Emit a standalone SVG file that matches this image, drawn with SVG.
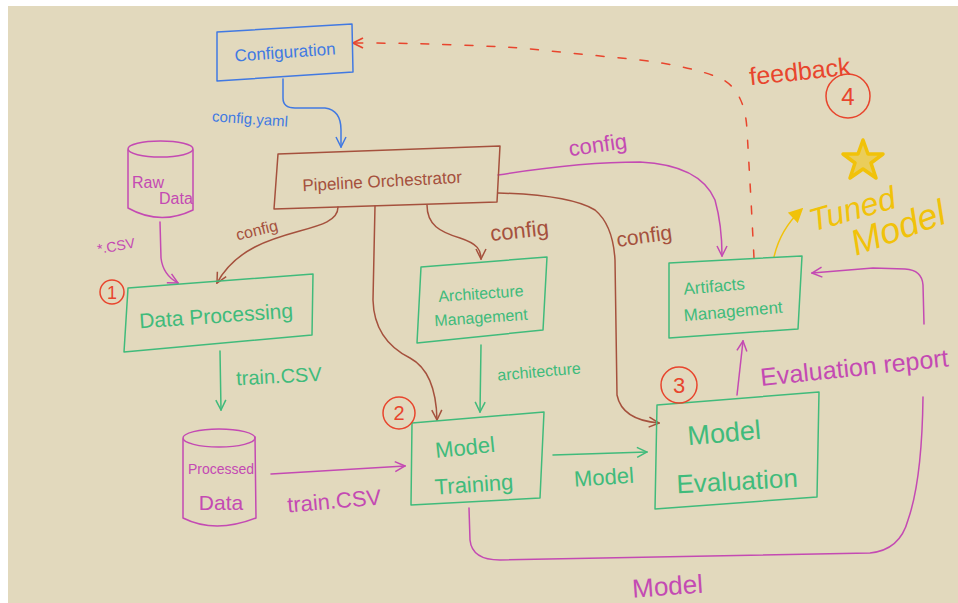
<svg xmlns="http://www.w3.org/2000/svg" width="958" height="603" viewBox="0 0 958 603">
<style>
.ln{fill:none;stroke-width:1.5;stroke-linecap:round;stroke-linejoin:round}
.t{font-family:"Liberation Sans","DejaVu Sans",sans-serif}
.blue{stroke:#4179e2}.brown{stroke:#a5513d}.green{stroke:#40bb7b}.mag{stroke:#c44ab3}.red{stroke:#e8452d}.yel{stroke:#f1c20a}
.fblue{fill:#4179e2}.fbrown{fill:#a5513d}.fgreen{fill:#40bb7b}.fmag{fill:#c44ab3}.fred{fill:#e8452d}.fyel{fill:#f1c20a}
</style>
<defs>
<marker id="ab" viewBox="0 0 12 12" refX="11" refY="6" markerWidth="12" markerHeight="12" markerUnits="userSpaceOnUse" orient="auto"><path d="M1,1 L11,6 L1,11" fill="none" stroke="#4179e2" stroke-width="1.5"/></marker>
<marker id="abr" viewBox="0 0 12 12" refX="11" refY="6" markerWidth="12" markerHeight="12" markerUnits="userSpaceOnUse" orient="auto"><path d="M1,1 L11,6 L1,11" fill="none" stroke="#a5513d" stroke-width="1.5"/></marker>
<marker id="ag" viewBox="0 0 12 12" refX="11" refY="6" markerWidth="12" markerHeight="12" markerUnits="userSpaceOnUse" orient="auto"><path d="M1,1 L11,6 L1,11" fill="none" stroke="#40bb7b" stroke-width="1.5"/></marker>
<marker id="am" viewBox="0 0 12 12" refX="11" refY="6" markerWidth="12" markerHeight="12" markerUnits="userSpaceOnUse" orient="auto"><path d="M1,1 L11,6 L1,11" fill="none" stroke="#c44ab3" stroke-width="1.5"/></marker>
<marker id="ar" viewBox="0 0 12 12" refX="11" refY="6" markerWidth="12" markerHeight="12" markerUnits="userSpaceOnUse" orient="auto"><path d="M1,1 L11,6 L1,11" fill="none" stroke="#e8452d" stroke-width="1.8"/></marker>
<marker id="ay" viewBox="0 0 12 12" refX="10" refY="6" markerWidth="14" markerHeight="14" markerUnits="userSpaceOnUse" orient="auto"><path d="M1,1 L11,6 L1,11 Z" fill="#f1c20a" stroke="#f1c20a" stroke-width="1.5"/></marker>
</defs>
<rect x="0" y="0" width="958" height="603" fill="#ffffff"/>
<rect x="8" y="6" width="950" height="597" fill="#e2d9bd"/>

<g id="connectors">
  <path class="ln blue" d="M283,79 L283,98 Q283,108 295,108 L325,108 Q341,110 341,130 L341,147" marker-end="url(#ab)"/>
  <text class="t fblue" x="212" y="124" font-size="15" transform="rotate(4 250 120)">config.yaml</text>

  <path class="ln mag" d="M160,222 L161,258 Q163,275 178,283" marker-end="url(#am)"/>
  <text class="t fmag" x="97" y="251" font-size="14" transform="rotate(-10 115 246)">*.CSV</text>

  <path class="ln brown" d="M338,207 C338,238 250,222 217,283" marker-end="url(#abr)"/>
  <text class="t fbrown" x="235" y="236" font-size="16" transform="rotate(-14 255 228)">config</text>

  <path class="ln brown" d="M427,205 C427,225 440,232 460,238 C478,244 481,250 481,259" marker-end="url(#abr)"/>
  <text class="t fbrown" x="490" y="238" font-size="22" transform="rotate(-6 520 230)">config</text>

  <path class="ln brown" d="M375,206 L373,300 Q374,340 410,358 Q436,372 437,420" marker-end="url(#abr)"/>

  <path class="ln brown" d="M498,193 Q570,195 595,210 Q613,225 615,260 L617,395 Q622,420 659,423" marker-end="url(#abr)"/>
  <text class="t fbrown" x="616" y="243" font-size="21" transform="rotate(-8 645 235)">config</text>

  <path class="ln mag" d="M498,175 Q580,162 640,162 Q700,165 715,200 Q722,225 722,256" marker-end="url(#am)"/>
  <text class="t fmag" x="568" y="152" font-size="22" transform="rotate(-8 600 142)">config</text>

  <path class="ln green" d="M220,351 L221,410" marker-end="url(#ag)"/>
  <text class="t fgreen" x="236" y="383" font-size="20" transform="rotate(-3 280 375)">train.CSV</text>

  <path class="ln mag" d="M271,474 L405,466" marker-end="url(#am)"/>
  <text class="t fmag" x="287" y="508" font-size="22" transform="rotate(-5 340 500)">train.CSV</text>

  <path class="ln green" d="M481,345 L480,412" marker-end="url(#ag)"/>
  <text class="t fgreen" x="497" y="377" font-size="16" transform="rotate(-5 540 370)">architecture</text>

  <path class="ln green" d="M553,455 L647,452" marker-end="url(#ag)"/>
  <text class="t fgreen" x="574" y="485" font-size="22" transform="rotate(-4 600 478)">Model</text>

  <path class="ln mag" d="M737,395 L743,341" marker-end="url(#am)"/>
  <text class="t fmag" x="759" y="376" font-size="25" transform="rotate(-6 855 360)">Evaluation report</text>

  <path class="ln mag" d="M469,508 L470,540 Q472,560 500,560 L870,553 Q900,550 908,520 Q922,480 923,397"/>
  <path class="ln mag" d="M924,324 L923,285 Q922,270 905,269 L873,268 L812,273" marker-end="url(#am)"/>
  <text class="t fmag" x="632" y="595" font-size="26" transform="rotate(-4 670 585)">Model</text>

  <path class="ln red" stroke-dasharray="8,14" d="M754,258 L751,200 L747,130 Q745,90 720,78 Q690,66 640,60 L520,48 Q440,43 353,43" marker-end="url(#ar)"/>
  <text class="t fred" x="749" y="80" font-size="25" transform="rotate(-6 800 70)">feedback</text>

  <path class="ln yel" stroke-width="3" d="M774,257 Q780,230 801,210" marker-end="url(#ay)"/>
</g>

<g id="configuration">
  <polygon class="ln blue" points="217,32 352,24 353,72 217,81"/>
  <text class="t fblue" x="285" y="58" font-size="17" text-anchor="middle" transform="rotate(-4 285 52)">Configuration</text>
</g>

<g id="pipeline-orchestrator">
  <polygon class="ln brown" points="278,154 500,146 497,202 274,209"/>
  <text class="t fbrown" x="382" y="187" font-size="17" text-anchor="middle" transform="rotate(-3 382 180)">Pipeline Orchestrator</text>
</g>

<g id="raw-data">
  <path class="ln mag" d="M128,150 L128,208 Q160,226 193,210 L193,150"/>
  <ellipse class="ln mag" cx="160.5" cy="149" rx="32.5" ry="8"/>
  <text class="t fmag" x="132" y="188" font-size="16">Raw</text>
  <text class="t fmag" x="159" y="204" font-size="16">Data</text>
</g>

<g id="data-processing">
  <polygon class="ln green" points="128,288 313,274 312,335 124,352"/>
  <circle class="ln red" cx="112" cy="292" r="12"/>
  <text class="t fred" x="112" y="299" font-size="18" text-anchor="middle">1</text>
  <text class="t fgreen" x="216" y="323" font-size="21" text-anchor="middle" transform="rotate(-4 216 315)">Data Processing</text>
</g>

<g id="processed-data">
  <path class="ln mag" d="M183,439 L183,518 Q215,534 256,518 L255,437"/>
  <ellipse class="ln mag" cx="219" cy="438" rx="36" ry="9"/>
  <text class="t fmag" x="221" y="474" font-size="14" text-anchor="middle">Processed</text>
  <text class="t fmag" x="221" y="510" font-size="21" text-anchor="middle">Data</text>
</g>

<g id="architecture-management">
  <polygon class="ln green" points="421,267 547,257 543,330 417,343"/>
  <text class="t fgreen" x="481" y="299" font-size="16" text-anchor="middle" transform="rotate(-4 481 295)">Architecture</text>
  <text class="t fgreen" x="481" y="323" font-size="16" text-anchor="middle" transform="rotate(-4 481 318)">Management</text>
</g>

<g id="model-training">
  <polygon class="ln green" points="412,423 544,412 540,498 411,505"/>
  <circle class="ln red" cx="399" cy="413" r="16"/>
  <text class="t fred" x="399" y="420" font-size="20" text-anchor="middle">2</text>
  <text class="t fgreen" x="465" y="455" font-size="22" text-anchor="middle" transform="rotate(-6 465 448)">Model</text>
  <text class="t fgreen" x="474" y="492" font-size="22" text-anchor="middle" transform="rotate(-4 474 485)">Training</text>
</g>

<g id="model-evaluation">
  <polygon class="ln green" points="657,405 819,392 817,497 655,509"/>
  <circle class="ln red" cx="679" cy="385" r="18"/>
  <text class="t fred" x="679" y="393" font-size="22" text-anchor="middle">3</text>
  <text class="t fgreen" x="724" y="442" font-size="27" text-anchor="middle" transform="rotate(-5 724 432)">Model</text>
  <text class="t fgreen" x="737" y="490" font-size="26" text-anchor="middle" transform="rotate(-3 737 480)">Evaluation</text>
</g>

<g id="artifacts-management">
  <polygon class="ln green" points="669,263 802,256 798,329 669,338"/>
  <text class="t fgreen" x="714" y="292" font-size="17" text-anchor="middle" transform="rotate(-5 714 285)">Artifacts</text>
  <text class="t fgreen" x="733" y="317" font-size="17" text-anchor="middle" transform="rotate(-5 733 310)">Management</text>
</g>

<g id="feedback-step">
  <circle class="ln red" cx="848" cy="96" r="22"/>
  <text class="t fred" x="848" y="105" font-size="24" text-anchor="middle">4</text>
</g>

<g id="tuned-model">
  <polygon fill="#f1c20a" fill-opacity="0.55" stroke="#f1c20a" stroke-width="3.5" stroke-linejoin="round" points="863,140 868,154 883,154 871,163 876,178 863,169 850,178 855,163 843,154 858,154"/>
  <text class="t fyel" x="852" y="220" font-size="32" font-style="italic" text-anchor="middle" transform="rotate(-16 852 208)">Tuned</text>
  <text class="t fyel" x="898" y="240" font-size="36" font-style="italic" text-anchor="middle" transform="rotate(-20 898 228)">Model</text>
</g>
</svg>
